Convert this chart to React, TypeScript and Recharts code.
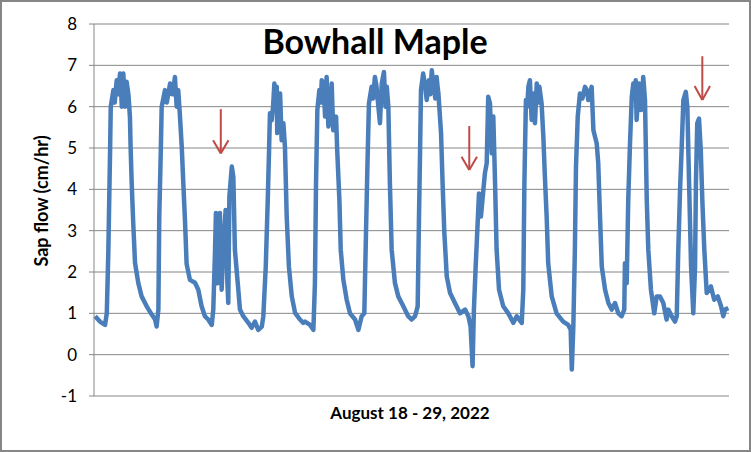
import { LineChart, Line, XAxis, YAxis, CartesianGrid, ReferenceLine } from 'recharts'

// hours since Aug 18 00:00
const hours = [
  0.5, 2.7, 5.0, 5.8, 6.5, 7.3, 7.6, 8.8, 10.3, 11.8, 12.6, 13.3, 14.1, 15.6, 16.3, 16.6, 17.1, 17.8, 18.6, 20.1,
  21.6, 23.9, 26.2, 27.7, 28.4, 29.2, 29.6, 30.3, 30.7, 32.2, 34.5, 36.7, 37.5, 38.2, 39.0, 39.8, 40.5, 41.3, 42.0, 43.5,
  45.8, 47.3, 48.8, 50.3, 51.8, 53.4, 54.1, 54.9, 55.3, 56.1, 57.1, 57.9, 58.6, 59.7, 60.5, 60.9, 61.4, 62.5, 63.2, 63.9,
  65.2, 66.2, 67.7, 70.0, 71.5, 73.0, 74.5, 76.1, 76.8, 77.9, 78.8, 79.4, 79.8, 80.6, 81.8, 82.9, 83.1, 84.4, 85.1, 85.9,
  86.6, 87.4, 88.4, 89.7, 91.2, 93.4, 94.9, 95.7, 98.0, 99.5, 100.2, 100.7, 101.3, 102.2, 103.3, 104.8, 105.5, 106.3, 107.8, 108.5,
  109.8, 110.3, 111.3, 111.9, 113.1, 114.6, 116.1, 118.4, 119.9, 121.4, 122.6, 123.2, 124.0, 124.7, 125.9, 127.4, 128.7, 129.7, 130.5, 131.5,
  132.8, 133.5, 134.2, 135.0, 136.5, 138.0, 140.3, 142.5, 144.1, 145.6, 146.8, 147.4, 147.9, 148.3, 149.3, 150.9, 151.9, 153.2, 154.3, 155.4,
  156.2, 157.4, 158.1, 158.9, 160.0, 161.5, 163.7, 166.0, 168.3, 169.8, 170.8, 171.7, 172.3, 173.1, 174.0, 174.6, 175.5, 176.6, 177.3, 178.1,
  178.8, 179.6, 180.4, 181.1, 181.9, 182.6, 183.7, 185.6, 187.9, 190.2, 191.7, 194.0, 194.7, 195.2, 195.9, 197.0, 197.7, 198.5, 199.2, 200.0,
  200.8, 202.0, 203.0, 203.8, 204.5, 205.3, 206.0, 207.6, 209.8, 212.8, 215.1, 216.2, 216.7, 217.4, 218.1, 218.6, 219.4, 220.4, 222.7, 224.2,
  225.7, 226.5, 228.0, 228.7, 229.5, 230.3, 231.8, 233.3, 234.8, 236.3, 237.8, 239.3, 240.5, 240.8, 241.6, 242.3, 243.1, 243.9, 244.6, 245.7,
  246.1, 247.2, 248.1, 249.1, 249.9, 250.7, 251.4, 252.6, 254.1, 255.2, 256.7, 258.2, 259.7, 260.5, 262.0, 263.5, 264.3, 265.0, 265.8, 266.5,
  267.3, 268.4, 269.1, 269.9, 270.8, 271.8, 272.6, 273.0, 273.6, 274.4, 275.2, 275.9, 276.8, 277.9, 279.8, 281.3, 282.9, 284.4, 285.4, 286.2,
  287.7,
]

// sap flow, cm/hr
const sapFlow = [
  0.93, 0.8, 0.72, 1.0, 2.5, 4.95, 6.0, 6.4, 6.64, 6.8, 6.0, 6.8, 6.0, 6.3, 5.75, 5.03, 4.15, 3.18, 2.22, 1.73,
  1.41, 1.17, 0.97, 0.85, 0.68, 1.09, 3.34, 4.95, 6.0, 6.4, 6.56, 6.72, 6.0, 6.4, 5.76, 5.03, 4.15, 3.2, 2.2, 1.81,
  1.74, 1.57, 1.17, 0.93, 0.85, 0.72, 1.09, 2.54, 3.43, 1.73, 3.43, 1.57, 2.54, 3.5, 1.73, 1.25, 3.82, 4.55, 4.3, 2.54,
  1.73, 1.09, 0.93, 0.77, 0.65, 0.8, 0.6, 0.68, 0.93, 2.13, 3.74, 4.95, 5.84, 5.67, 6.56, 6.48, 5.36, 6.32, 5.19, 5.6,
  5.03, 3.34, 2.13, 1.41, 1.01, 0.85, 0.77, 0.8, 0.72, 0.6, 1.73, 4.15, 5.92, 6.4, 6.64, 5.76, 6.72, 5.52, 6.56, 5.43,
  5.76, 4.95, 3.74, 2.54, 1.81, 1.33, 1.0, 0.85, 0.6, 0.93, 1.0, 2.54, 4.55, 6.08, 6.48, 6.72, 6.16, 5.6, 6.56, 6.84,
  6.48, 6.0, 4.15, 2.54, 1.73, 1.41, 1.17, 0.93, 0.85, 0.93, 1.17, 3.34, 4.95, 6.4, 6.8, 6.16, 6.64, 6.88, 6.4, 6.72,
  6.32, 5.36, 4.15, 2.94, 1.89, 1.49, 1.25, 1.0, 1.09, 0.93, 0.68, -0.28, 1.09, 2.13, 3.18, 3.9, 3.34, 3.99, 4.39, 4.63,
  6.24, 6.08, 4.87, 5.76, 4.15, 2.54, 1.57, 1.17, 1.0, 0.77, 0.93, 0.77, 1.57, 4.15, 6.16, 6.48, 6.64, 5.68, 6.32, 5.6,
  6.56, 6.48, 6.08, 5.27, 4.3, 3.34, 2.21, 1.41, 1.0, 0.8, 0.72, 0.6, -0.36, 0.68, 2.54, 4.55, 5.76, 6.32, 6.48, 6.16,
  6.48, 5.43, 5.11, 4.63, 3.34, 2.13, 1.57, 1.25, 1.09, 1.25, 1.0, 0.93, 1.09, 2.21, 1.73, 3.74, 5.11, 6.24, 6.56, 6.64,
  5.68, 6.56, 5.92, 6.72, 6.16, 3.74, 2.54, 1.57, 1.0, 1.41, 1.41, 1.25, 0.85, 1.09, 0.93, 0.8, 0.93, 2.54, 3.99, 4.95,
  6.16, 6.36, 6.0, 4.15, 2.13, 1.0, 2.13, 4.15, 5.6, 5.71, 4.95, 3.74, 2.54, 1.49, 1.65, 1.33, 1.41, 1.17, 0.93, 1.09,
  1.13,
]

// extra readings inside the noisy midday plateaus
const peakHours = [
  9.4, 10.9, 12.2, 14.8, 33.0, 35.5, 36.2, 81.2, 82.3, 102.8, 104.2, 107.2, 126.6, 128.1, 132.2,
  150.2, 152.5, 154.8, 155.8, 196.5, 201.4, 221.5, 223.5, 245.2, 248.6,
]
const peakFlow = [
  6.1, 6.3, 6.5, 6.6, 6.1, 6.3, 6.5, 6.0, 6.2, 6.1, 6.5, 5.8, 6.2, 6.5, 6.0,
  6.5, 6.3, 6.2, 6.5, 6.0, 6.1, 6.2, 6.4, 6.2, 6.2,
]

const yTicks = [-1, 0, 1, 2, 3, 4, 5, 6, 7, 8]

// arrows: hour, top of shaft, tip, where the head arms start
const arrowHours = [57.5, 170.2, 275.9]
const arrowTops = [5.94, 5.53, 7.22]
const arrowTips = [4.87, 4.47, 6.16]
const arrowArms = [5.19, 4.79, 6.5]
const arrowHalfWidth = 3.5

const data = hours
  .map((h, i) => ({ h, flow: sapFlow[i] }))
  .concat(peakHours.map((h, i) => ({ h, flow: peakFlow[i] })))
  .sort((a, b) => a.h - b.h)

const GRID = '#868686'
const BLUE = '#4a7ebb'
const RED = '#be4b48'
const FONT = 'Lato, "Open Sans", sans-serif'

export default function App() {
  return (
    <div style={{ position: 'absolute', left: 0, top: 0, width: 751, height: 452, background: '#fff' }}>
      <LineChart
        width={751}
        height={452}
        data={data}
        margin={{ top: 24, right: 22, bottom: 56, left: 34 }}
      >
        <CartesianGrid vertical={false} stroke={GRID} strokeWidth={1} />
        <XAxis dataKey="h" type="number" domain={[0, 288]} hide />
        <YAxis
          type="number"
          domain={[-1, 8]}
          ticks={yTicks}
          width={60}
          interval={0}
          axisLine={{ stroke: GRID }}
          tickLine={{ stroke: GRID }}
          tickSize={5}
          tickMargin={12}
          tick={{ fill: '#000', fontSize: 17, fontFamily: FONT }}
        />
        <Line
          dataKey="flow"
          type="linear"
          stroke={BLUE}
          strokeWidth={4.5}
          dot={false}
          isAnimationActive={false}
          strokeLinejoin="round"
        />
        {arrowHours.map((h, i) => (
          <ReferenceLine
            key={'s' + i}
            segment={[{ x: h, y: arrowTops[i] }, { x: h, y: arrowTips[i] }]}
            stroke={RED}
            strokeWidth={2}
          />
        ))}
        {arrowHours.map((h, i) => (
          <ReferenceLine
            key={'l' + i}
            segment={[{ x: h - arrowHalfWidth, y: arrowArms[i] }, { x: h, y: arrowTips[i] }]}
            stroke={RED}
            strokeWidth={2}
          />
        ))}
        {arrowHours.map((h, i) => (
          <ReferenceLine
            key={'r' + i}
            segment={[{ x: h + arrowHalfWidth, y: arrowArms[i] }, { x: h, y: arrowTips[i] }]}
            stroke={RED}
            strokeWidth={2}
          />
        ))}
      </LineChart>
      <svg
        width={751}
        height={452}
        style={{ position: 'absolute', left: 0, top: 0, pointerEvents: 'none' }}
      >
        <text x={375} y={54} textAnchor="middle" fontFamily={FONT} fontWeight="bold" fontSize={34} fill="#000">
          Bowhall Maple
        </text>
        <text
          x={48}
          y={201}
          textAnchor="middle"
          fontFamily={FONT}
          fontWeight="bold"
          fontSize={18}
          fill="#000"
          transform="rotate(-90 48 201)"
        >
          Sap flow (cm/hr)
        </text>
        <text x={410} y={419} textAnchor="middle" fontFamily={FONT} fontWeight="bold" fontSize={17} fill="#000">
          August 18 - 29, 2022
        </text>
      </svg>
      <div
        style={{
          position: 'absolute',
          left: 0,
          top: 0,
          width: 751,
          height: 452,
          boxSizing: 'border-box',
          border: '2px solid #868686',
          pointerEvents: 'none',
        }}
      />
    </div>
  )
}
